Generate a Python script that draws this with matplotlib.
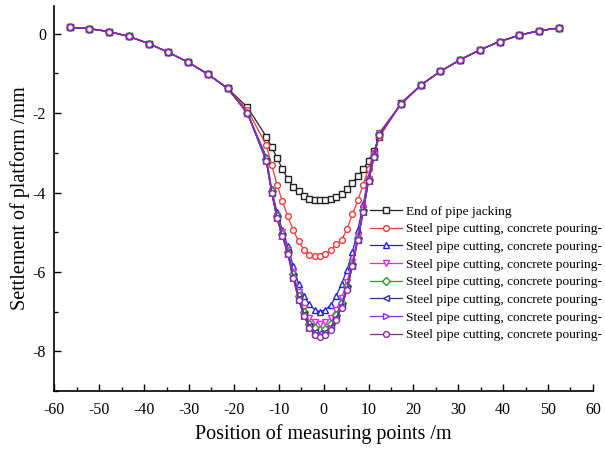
import matplotlib
matplotlib.use("Agg")
import matplotlib.pyplot as plt
from matplotlib.ticker import MultipleLocator

# measuring point positions (m)
x = [-56.6, -52.2, -47.8, -43.4, -39.0, -34.6, -30.2, -25.8, -21.4, -17.0,
     -12.8, -11.6, -10.4, -9.2, -8.0, -6.8, -5.6, -4.4, -3.2, -2.0, -0.8,
     0.4, 1.6, 2.8, 4.0, 5.2, 6.4, 7.6, 8.8, 10.0, 11.2, 12.4,
     17.2, 21.6, 26.0, 30.4, 34.8, 39.2, 43.6, 48.0, 52.4]

# settlement values (mm), left flank / trough / right flank
left_flank = [0.16, 0.125, 0.05, -0.07, -0.25, -0.47, -0.72, -1.02, -1.38]
right_flank = [-1.30, -0.95, -0.66, -0.41, -0.20, -0.04, 0.075, 0.14]

end_jacking = left_flank + [-1.85,
    -2.59, -2.85, -3.13, -3.41, -3.66, -3.85, -3.97, -4.10, -4.16, -4.20, -4.20,
    -4.18, -4.16, -4.11, -4.03, -3.91, -3.76, -3.58, -3.41, -3.20, -2.95, -2.60,
    -1.75] + right_flank
stage1 = left_flank + [-1.92,
    -2.80, -3.30, -3.80, -4.22, -4.60, -4.94, -5.23, -5.44, -5.57, -5.61, -5.60,
    -5.56, -5.46, -5.30, -5.20, -4.92, -4.55, -4.20, -3.80, -3.40, -3.00, -2.60,
    -1.77] + right_flank
stage2 = left_flank + [-2.0,
    -3.10, -3.90, -4.50, -4.95, -5.35, -5.85, -6.30, -6.60, -6.82, -6.95, -7.00,
    -6.95, -6.83, -6.60, -6.30, -5.95, -5.50, -4.95, -4.30, -3.60, -3.00, -2.50,
    -1.78] + right_flank
stage3 = left_flank + [-2.0,
    -3.15, -3.95, -4.60, -5.00, -5.45, -6.00, -6.50, -6.90, -7.15, -7.27, -7.30,
    -7.27, -7.15, -6.95, -6.65, -6.25, -5.75, -5.10, -4.40, -3.65, -3.05, -2.50,
    -1.78] + right_flank
stage4 = left_flank + [-2.0,
    -3.15, -3.95, -4.60, -5.05, -5.50, -6.05, -6.60, -7.00, -7.30, -7.42, -7.47,
    -7.43, -7.30, -7.08, -6.78, -6.35, -5.80, -5.15, -4.45, -3.68, -3.08, -2.52,
    -1.78] + right_flank
stage5 = left_flank + [-2.0,
    -3.20, -4.00, -4.65, -5.10, -5.50, -6.10, -6.65, -7.05, -7.35, -7.50, -7.55,
    -7.52, -7.38, -7.15, -6.85, -6.40, -5.85, -5.20, -4.50, -3.70, -3.10, -2.53,
    -1.78] + right_flank
stage6 = left_flank + [-2.0,
    -3.20, -4.00, -4.65, -5.10, -5.55, -6.15, -6.70, -7.10, -7.40, -7.56, -7.60,
    -7.57, -7.42, -7.18, -6.88, -6.42, -5.85, -5.20, -4.50, -3.70, -3.10, -2.55,
    -1.78] + right_flank
stage7 = left_flank + [-2.0,
    -3.20, -4.00, -4.65, -5.10, -5.55, -6.15, -6.70, -7.10, -7.40, -7.58, -7.65,
    -7.60, -7.45, -7.20, -6.90, -6.45, -5.85, -5.20, -4.50, -3.70, -3.10, -2.55,
    -1.78] + right_flank

series = [end_jacking, stage1, stage2, stage3, stage4, stage5, stage6, stage7]
labels = ["End of pipe jacking"] + ["Steel pipe cutting, concrete pouring-"] * 7
colors = ["#222222", "#ee3b3b", "#2020e8", "#ee22ee", "#2a9a2a", "#33338a",
          "#8a2be8", "#8a2a9a"]
markers = ["s", "o", "^", "v", "D", "<", ">", "o"]


def main() -> None:
    plt.rcParams["font.family"] = ["Liberation Serif", "DejaVu Serif"]
    plt.rcParams["axes.unicode_minus"] = False

    fig = plt.figure(figsize=(6.05, 4.49), dpi=100)
    ax = fig.add_axes([0.090, 0.129, 0.890, 0.858])

    for ys, lab, c, m in zip(series, labels, colors, markers):
        ms = 3.6 if m == "D" else 4.2
        ax.plot(x, ys, color=c, marker=m, markersize=ms, markerfacecolor="white",
                markeredgecolor=c, markeredgewidth=1.0, linewidth=0.9, label=lab)

    ax.set_xlim(-60, 60)
    ax.set_ylim(-9, 0.7)
    ax.xaxis.set_major_locator(MultipleLocator(10))
    ax.xaxis.set_minor_locator(MultipleLocator(5))
    ax.yaxis.set_major_locator(MultipleLocator(2))
    ax.yaxis.set_minor_locator(MultipleLocator(1))
    ax.tick_params(which="both", direction="in", width=1.0, labelsize=11.5,
                   colors="black")
    ax.tick_params(which="major", length=5)
    ax.tick_params(which="minor", length=3)
    ax.tick_params(axis="x", pad=8)
    ax.tick_params(axis="y", pad=6)
    for side in ("top", "right"):
        ax.spines[side].set_visible(False)
    for side in ("left", "bottom"):
        ax.spines[side].set_linewidth(1.2)

    ax.set_xlabel("Position of measuring points /m", fontsize=14.5, labelpad=4)
    ax.set_ylabel("Settlement of platform /mm", fontsize=14.5, labelpad=2)

    ax.legend(loc="upper left", bbox_to_anchor=(0.612, 0.543),
              bbox_transform=fig.transFigure, frameon=False, fontsize=9.6,
              handlelength=2.4, handletextpad=0.3, labelspacing=0.4,
              borderpad=0, borderaxespad=0)

    fig.savefig("out.png", dpi=100)


if __name__ == "__main__":
    main()
